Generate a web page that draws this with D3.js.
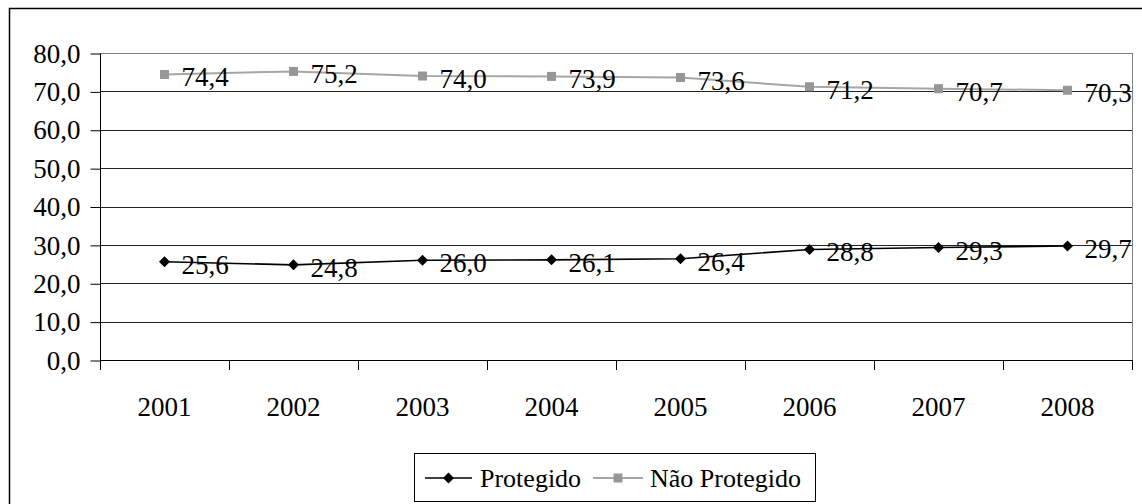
<!DOCTYPE html>
<html>
<head>
<meta charset="utf-8">
<script src="https://cdn.jsdelivr.net/npm/d3@7"></script>
<style>
  body { margin: 0; background: #fff; }
  svg text { font-family: "Liberation Serif", "Times New Roman", serif; }
</style>
</head>
<body>
<div id="chart"></div>
<script>
// chart data
const years = ["2001", "2002", "2003", "2004", "2005", "2006", "2007", "2008"];
const protegido = [25.6, 24.8, 26.0, 26.1, 26.4, 28.8, 29.3, 29.7];
const naoProtegido = [74.4, 75.2, 74.0, 73.9, 73.6, 71.2, 70.7, 70.3];
const yTicks = [0, 10, 20, 30, 40, 50, 60, 70, 80];

const series = [
    { name: "Protegido", values: protegido, line: "#000", marker: "#000", shape: "diamond", lw: 1.6 },
    { name: "Não Protegido", values: naoProtegido, line: "#a6a6a6", marker: "#969696", shape: "square", lw: 2 }
];

const W = 1142, H = 504;
const plot = { left: 100, right: 1132, top: 53, bottom: 360 };

const svg = d3.select("#chart").append("svg")
    .attr("width", W)
    .attr("height", H);

// outer chart border (cut off on right/bottom)
svg.append("path")
    .attr("d", "M9.5," + H + "V8.5H" + W)
    .attr("fill", "none")
    .attr("stroke", "#000")
    .attr("stroke-width", 1.5);

const x = d3.scaleBand()
    .domain(years)
    .range([plot.left, plot.right]);

const y = d3.scaleLinear()
    .domain([0, 80])
    .range([plot.bottom, plot.top]);

const fmt = d => d.toFixed(1).replace(".", ",");

// gridlines
svg.append("g")
    .selectAll("line")
    .data(yTicks.filter(d => d > 0))
    .join("line")
    .attr("x1", plot.left)
    .attr("x2", plot.right)
    .attr("y1", d => Math.round(y(d)) + 0.5)
    .attr("y2", d => Math.round(y(d)) + 0.5)
    .attr("stroke", d => d === 80 ? "#808080" : "#222")
    .attr("stroke-width", 1);

// right edge of plot area
svg.append("line")
    .attr("x1", plot.right + 0.5).attr("x2", plot.right + 0.5)
    .attr("y1", plot.top).attr("y2", plot.bottom)
    .attr("stroke", "#808080");

// y axis
const yAxis = svg.append("g")
    .attr("transform", "translate(" + (plot.left + 0.5) + ",0.5)")
    .call(d3.axisLeft(y).tickValues(yTicks).tickFormat(fmt).tickSize(10).tickPadding(10));
yAxis.attr("font-family", null);
yAxis.selectAll("text").attr("font-size", 27).attr("fill", "#000");
yAxis.selectAll("line, path").attr("stroke", "#000");
yAxis.select(".domain").attr("d", "M0," + plot.top + "V" + plot.bottom);

// x axis: ticks at category boundaries
const xg = svg.append("g");
xg.append("line")
    .attr("x1", plot.left).attr("x2", plot.right)
    .attr("y1", plot.bottom + 0.5).attr("y2", plot.bottom + 0.5)
    .attr("stroke", "#000");
xg.selectAll(".tk")
    .data(years.concat(["end"]))
    .join("line")
    .attr("class", "tk")
    .attr("x1", (d, i) => Math.round(plot.left + i * x.step()) + 0.5)
    .attr("x2", (d, i) => Math.round(plot.left + i * x.step()) + 0.5)
    .attr("y1", plot.bottom)
    .attr("y2", plot.bottom + 10)
    .attr("stroke", "#000");
xg.selectAll("text")
    .data(years)
    .join("text")
    .attr("x", d => x(d) + x.bandwidth() / 2)
    .attr("y", 416)
    .attr("text-anchor", "middle")
    .attr("font-size", 27)
    .text(d => d);

const cx = i => x(years[i]) + x.bandwidth() / 2;

function drawMarker(g, shape, color, px, py) {
    if (shape === "diamond") {
        g.append("path")
            .attr("d", "M" + px + "," + (py - 5.5) + "L" + (px + 5.5) + "," + py + "L" + px + "," + (py + 5.5) + "L" + (px - 5.5) + "," + py + "Z")
            .attr("fill", color);
    } else {
        g.append("rect")
            .attr("x", px - 4.5).attr("y", py - 4.5)
            .attr("width", 9).attr("height", 9)
            .attr("fill", color);
    }
}

const line = d3.line()
    .x((d, i) => cx(i))
    .y(d => y(d));

series.forEach(s => {
    const g = svg.append("g");
    g.append("path")
        .datum(s.values)
        .attr("d", line)
        .attr("fill", "none")
        .attr("stroke", s.line)
        .attr("stroke-width", s.lw);
    s.values.forEach((v, i) => drawMarker(g, s.shape, s.marker, cx(i), y(v)));
    g.selectAll("text")
        .data(s.values)
        .join("text")
        .attr("x", (d, i) => cx(i) + 17)
        .attr("y", d => y(d) + 12)
        .attr("font-size", 27)
        .text(fmt);
});

// legend
const lg = svg.append("g");
lg.append("rect")
    .attr("x", 414.5).attr("y", 453.5)
    .attr("width", 401).attr("height", 48)
    .attr("fill", "#fff")
    .attr("stroke", "#000");
const legendItems = [
    { s: series[0], x0: 425, x1: 472, tx: 480 },
    { s: series[1], x0: 593, x1: 643, tx: 650 }
];
legendItems.forEach(it => {
    const ly = 478;
    lg.append("line")
        .attr("x1", it.x0).attr("x2", it.x1)
        .attr("y1", ly).attr("y2", ly)
        .attr("stroke", it.s.line)
        .attr("stroke-width", it.s.lw);
    drawMarker(lg, it.s.shape, it.s.marker, (it.x0 + it.x1) / 2, ly);
    lg.append("text")
        .attr("x", it.tx)
        .attr("y", 487)
        .attr("font-size", 26)
        .text(it.s.name);
});
</script>
</body>
</html>
